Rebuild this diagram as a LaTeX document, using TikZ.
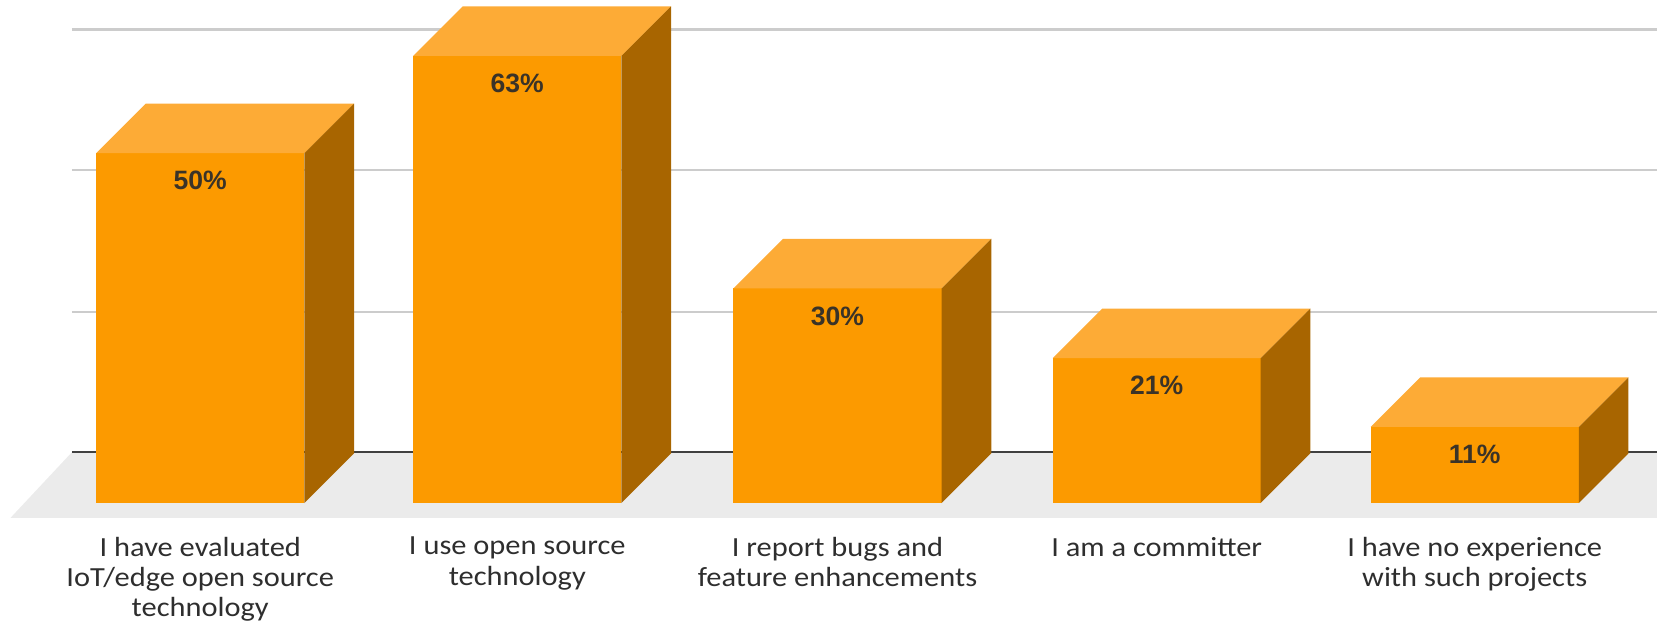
\documentclass[tikz,border=0pt]{standalone}
\usepackage{fontspec}
\setmainfont{Carlito}[FakeStretch=1.1]
\newfontfamily\pctfont{Liberation Sans}
\definecolor{frontc}{HTML}{FC9A00}
\definecolor{topc}{HTML}{FDAB36}
\definecolor{sidec}{HTML}{A86500}
\definecolor{floorc}{HTML}{EBEBEB}
\definecolor{gridc}{HTML}{CCCCCC}
\definecolor{axisc}{HTML}{404040}
\definecolor{pctc}{HTML}{3A3328}
\begin{document}
\begin{tikzpicture}[x=0.02cm,y=-0.02cm,
  gridline/.style={draw=gridc,line width=1.2pt},
  axisline/.style={draw=axisc,line width=1.2pt},
  pctlabel/.style={font=\pctfont\bfseries\fontsize{14.3}{16}\selectfont,text=pctc,inner sep=0pt},
  catlabel/.style={font=\fontsize{14.9}{16.2}\selectfont,text=black!82,align=center,anchor=north,inner sep=0pt}]
\useasboundingbox (0,0) rectangle (1568,590);
% floor
\fill[floorc] (68,428) -- (1568,428) -- (1568,490) -- (10,490) -- cycle;
% gridlines
\foreach \g in {28,161,295} \draw[gridline] (68,\g) -- (1568,\g);
\draw[axisline] (68,428) -- (1568,428);
% bars
\foreach \x/\t/\p/\n in {91/145/50/a, 391/53/63/b, 694/273/30/c, 996/339/21/d, 1297/404/11/e}{
  \pgfmathsetmacro{\xr}{\x+197}
  \pgfmathsetmacro{\xb}{\x+47}
  \pgfmathsetmacro{\xbr}{\x+244}
  \pgfmathsetmacro{\tb}{\t-47}
  \pgfmathsetmacro{\xc}{\x+98.5}
  \pgfmathsetmacro{\ty}{\t+26}
  \fill[frontc] (\x,\t) rectangle (\xr,476);
  \fill[topc] (\x,\t) -- (\xb,\tb) -- (\xbr,\tb) -- (\xr,\t) -- cycle;
  \fill[sidec] (\xr,\t) -- (\xbr,\tb) -- (\xbr,429) -- (\xr,476) -- cycle;
  \node[pctlabel] (p\n) at (\xc,\ty) {\p\%};
}
% category labels
\node[catlabel] (la) at (189.5,508) {I have evaluated\\IoT/edge open source\\technology};
\node[catlabel] (lb) at (489.5,508) {I use open source\\technology};
\node[catlabel] (lc) at (792.5,508) {I report bugs and\\feature enhancements};
\node[catlabel] (ld) at (1094.5,508) {I am a committer};
\node[catlabel] (le) at (1395.5,508) {I have no experience\\with such projects};
\end{tikzpicture}
\end{document}
